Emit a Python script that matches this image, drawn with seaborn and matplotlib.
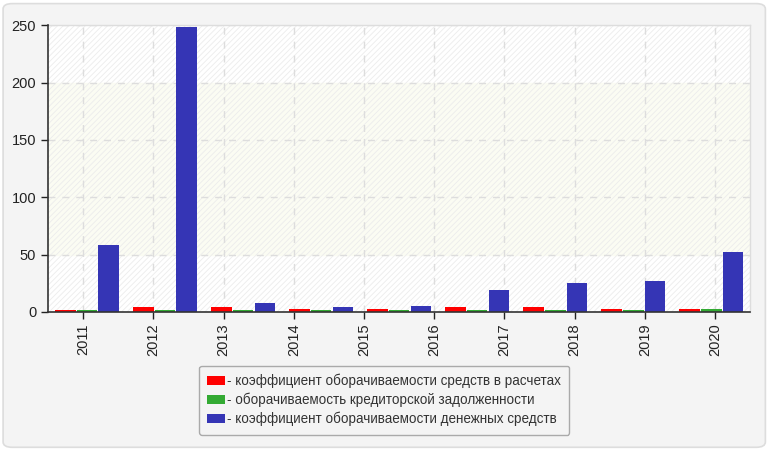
import pandas as pd
import seaborn as sns
import matplotlib.pyplot as plt
from matplotlib.patches import FancyBboxPatch, Rectangle

# tick labels on the x axis (10 labels, but the source chart draws only 9 groups)
years = ['2011', '2012', '2013', '2014', '2015', '2016', '2017', '2018', '2019', '2020']
groups = ['g1', 'g2', 'g3', 'g4', 'g5', 'g6', 'g7', 'g8', 'g9']

series_names = [
  'коэффициент оборачиваемости средств в расчетах',
  'оборачиваемость кредиторской задолженности',
  'коэффициент оборачиваемости денежных средств',
]
receivables_turnover = [2.0, 3.8, 3.8, 2.9, 2.9, 3.8, 3.8, 2.9, 2.9]
payables_turnover = [2.0, 2.0, 2.0, 2.0, 2.0, 2.0, 2.0, 2.0, 2.9]
cash_turnover = [58, 248, 8, 3.8, 5.5, 18.7, 24.8, 26.6, 52]
colors = ['#ff0000', '#33aa33', '#3535b5']

df = pd.DataFrame({
  'group': groups * 3,
  'series': [series_names[0]] * 9 + [series_names[1]] * 9 + [series_names[2]] * 9,
  'value': receivables_turnover + payables_turnover + cash_turnover,
})

sns.set_style('white')
plt.rcParams['font.family'] = ['Liberation Sans', 'DejaVu Sans']
plt.rcParams['hatch.linewidth'] = 0.6

fig = plt.figure(figsize=(7.7, 4.5), dpi=100, facecolor='white')
# rounded outer frame
frame = FancyBboxPatch((0.004, 0.006), 0.99, 0.986, boxstyle='round,pad=0,rounding_size=0.012',
                       transform=fig.transFigure, facecolor='#f4f4f4', edgecolor='#dddddd',
                       linewidth=1.2, zorder=-10)
fig.patches.append(frame)
ax = fig.add_axes([0.0623, 0.307, 0.912, 0.637])
ax.set_facecolor('white')

sns.barplot(data=df, x='group', y='value', hue='series', palette=colors, order=groups,
            hue_order=series_names, width=0.84, gap=0.05, saturation=1, ax=ax, legend=False,
            zorder=3, edgecolor='none')

ax.set_xlim(-0.5, len(groups) - 0.5)
ax.set_ylim(0, 250)

# background band and hatch
ax.axhspan(50, 200, color='#fbfcf3', zorder=0)
ax.add_patch(Rectangle((0, 0), 1, 1, transform=ax.transAxes, fill=False, hatch='//////',
                       edgecolor='#ececec', linewidth=0, zorder=1))

n = len(years)
span = len(groups)
tick_pos = [-0.5 + span / n * (k + 0.5) for k in range(n)]
ax.set_xticks(tick_pos)
ax.set_xticklabels(years, rotation=90, fontsize=10.5, color='#222222')
ax.set_yticks([0, 50, 100, 150, 200, 250])
ax.tick_params(axis='y', labelsize=10.5, colors='#222222', length=5, width=1, direction='out', left=True)
ax.tick_params(axis='x', length=5, width=1, direction='out', bottom=True, colors='#222222')
ax.grid(True, linestyle=(0, (5, 5)), color='#dddddd', linewidth=1, zorder=2)
ax.set_axisbelow(False)
ax.set_xlabel('')
ax.set_ylabel('')

for side in ['left', 'bottom']:
  ax.spines[side].set_color('#333333')
  ax.spines[side].set_linewidth(1.2)
  ax.spines[side].set_zorder(5)
for side in ['top', 'right']:
  ax.spines[side].set_color('#dddddd')
  ax.spines[side].set_linewidth(1)

handles = [Rectangle((0, 0), 1, 1, facecolor=c, edgecolor='none') for c in colors]
leg = fig.legend(handles, ['- ' + s for s in series_names], loc='center', bbox_to_anchor=(0.499, 0.111),
                 frameon=True, fontsize=9.75, handlelength=1.3, handleheight=0.7, handletextpad=0.2,
                 labelspacing=0.35, borderpad=0.6, fancybox=True, edgecolor='#aaaaaa', facecolor='#f4f4f4',
                 framealpha=1)
for t in leg.get_texts():
  t.set_color('#333333')
leg.get_frame().set_linewidth(1)

fig.savefig('out.png', dpi=100, facecolor=fig.get_facecolor())
